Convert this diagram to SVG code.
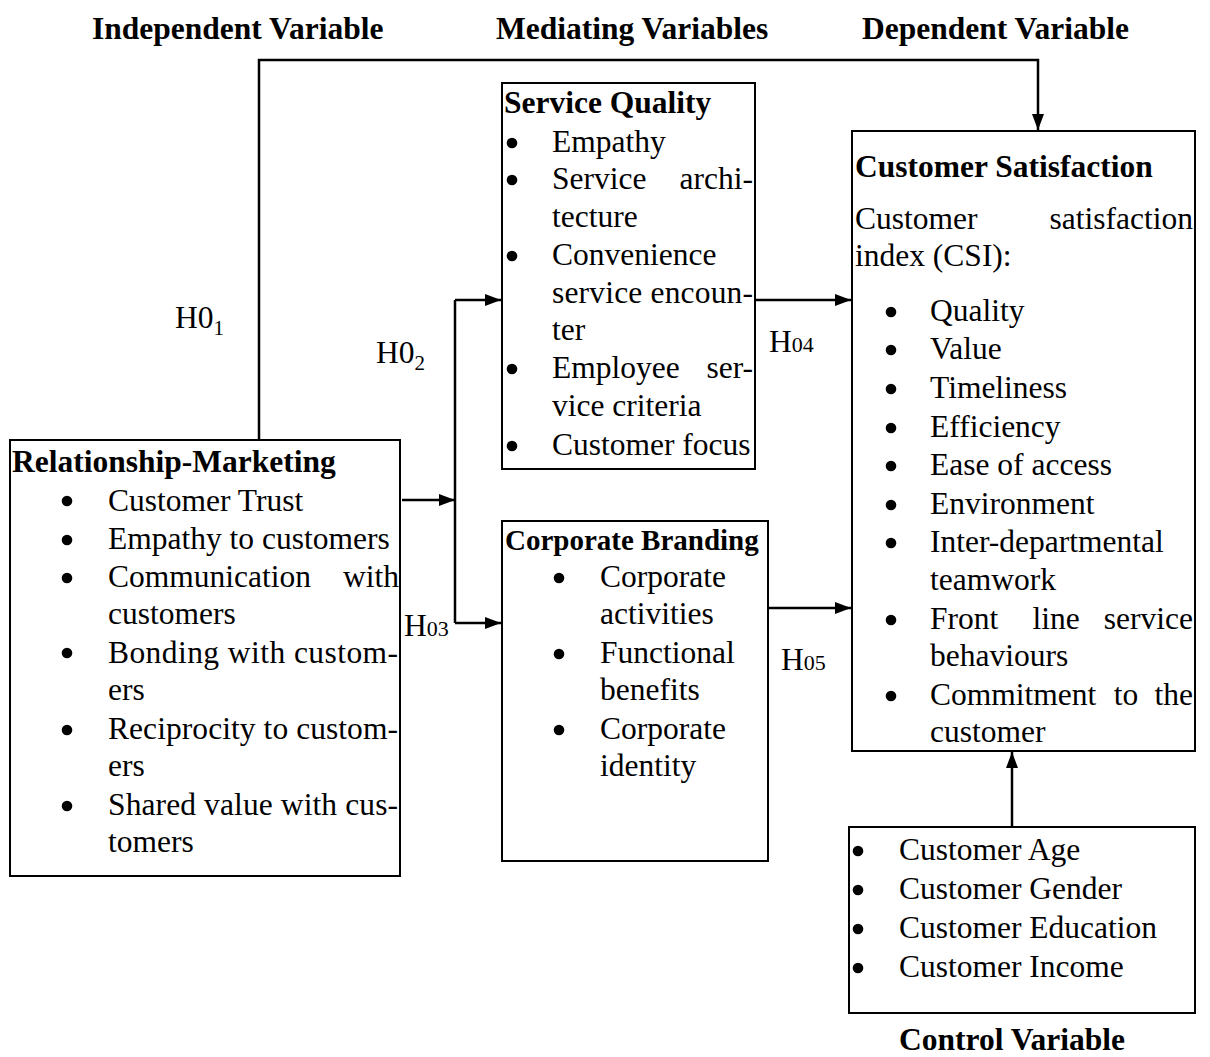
<svg xmlns="http://www.w3.org/2000/svg" width="1210" height="1057" viewBox="0 0 1210 1057">
<style>
text{font-family:"Liberation Serif","Times New Roman",serif;font-size:31.5px;fill:#000}
.b{font-weight:bold}
.sm{font-size:22px}
.sub{font-size:21px}
.box{fill:#fff;stroke:#000;stroke-width:2}
.conn{fill:none;stroke:#000;stroke-width:2.5}
.bul{fill:#000}
</style>
<defs>
<marker id="arr" viewBox="0 0 16 12" refX="16" refY="6" markerWidth="16" markerHeight="12" markerUnits="userSpaceOnUse" orient="auto">
<path d="M0,0 L16,6 L0,12 z" fill="#000"/>
</marker>
</defs>
<rect width="1210" height="1057" fill="#fff"/>

<g id="headers">
<text class="b" x="92" y="39">Independent Variable</text>
<text class="b" x="496" y="39">Mediating Variables</text>
<text class="b" x="862" y="39">Dependent Variable</text>
<text class="b" x="899" y="1050">Control Variable</text>
</g>

<g id="connectors">
<path class="conn" d="M259,440 V60 H1038 V130" marker-end="url(#arr)"/>
<path class="conn" d="M402,500 H455" marker-end="url(#arr)"/>
<path class="conn" d="M455,300 V623"/>
<path class="conn" d="M455,300 H501" marker-end="url(#arr)"/>
<path class="conn" d="M455,623 H501" marker-end="url(#arr)"/>
<path class="conn" d="M755,300 H851" marker-end="url(#arr)"/>
<path class="conn" d="M768,608 H851" marker-end="url(#arr)"/>
<path class="conn" d="M1012,827 V752" marker-end="url(#arr)"/>
</g>

<g id="labels">
<text x="175" y="328">H0<tspan class="sub" dy="7">1</tspan></text>
<text x="376" y="363">H0<tspan class="sub" dy="7">2</tspan></text>
<text x="404" y="636">H<tspan class="sm">03</tspan></text>
<text x="769" y="352">H<tspan class="sm">04</tspan></text>
<text x="781" y="670">H<tspan class="sm">05</tspan></text>
</g>

<g id="relationship-marketing">
<rect class="box" x="10" y="440" width="390" height="436"/>
<text class="b" x="12" y="472">Relationship-Marketing</text>
<circle class="bul" cx="67" cy="501" r="5.3"/>
<text x="108" y="511">Customer Trust</text>
<circle class="bul" cx="67" cy="540" r="5.3"/>
<text x="108" y="549">Empathy to customers</text>
<circle class="bul" cx="67" cy="578" r="5.3"/>
<text x="108" y="587">Communication</text>
<text x="399" y="587" text-anchor="end">with</text>
<text x="108" y="624">customers</text>
<circle class="bul" cx="67" cy="653" r="5.3"/>
<text x="108" y="663" textLength="290" lengthAdjust="spacing">Bonding with custom-</text>
<text x="108" y="700">ers</text>
<circle class="bul" cx="67" cy="730" r="5.3"/>
<text x="108" y="739" textLength="290" lengthAdjust="spacing">Reciprocity to custom-</text>
<text x="108" y="776">ers</text>
<circle class="bul" cx="67" cy="806" r="5.3"/>
<text x="108" y="815" textLength="290" lengthAdjust="spacing">Shared value with cus-</text>
<text x="108" y="852">tomers</text>
</g>

<g id="service-quality">
<rect class="box" x="502" y="83" width="253" height="386"/>
<text class="b" x="504" y="113">Service Quality</text>
<circle class="bul" cx="512" cy="143" r="5.3"/>
<text x="552" y="152">Empathy</text>
<circle class="bul" cx="512" cy="180" r="5.3"/>
<text x="552" y="189">Service</text>
<text x="753" y="189" text-anchor="end">archi-</text>
<text x="552" y="227">tecture</text>
<circle class="bul" cx="512" cy="256" r="5.3"/>
<text x="552" y="265">Convenience</text>
<text x="552" y="303" textLength="201" lengthAdjust="spacing">service encoun-</text>
<text x="552" y="340">ter</text>
<circle class="bul" cx="512" cy="369" r="5.3"/>
<text x="552" y="378">Employee</text>
<text x="753" y="378" text-anchor="end">ser-</text>
<text x="552" y="416">vice criteria</text>
<circle class="bul" cx="512" cy="446" r="5.3"/>
<text x="552" y="455">Customer focus</text>
</g>

<g id="corporate-branding">
<rect class="box" x="502" y="521" width="266" height="340"/>
<text class="b" x="505" y="550" style="font-size:29px">Corporate Branding</text>
<circle class="bul" cx="559" cy="578" r="5.3"/>
<text x="600" y="587">Corporate</text>
<text x="600" y="624">activities</text>
<circle class="bul" cx="559" cy="654" r="5.3"/>
<text x="600" y="663">Functional</text>
<text x="600" y="700">benefits</text>
<circle class="bul" cx="559" cy="730" r="5.3"/>
<text x="600" y="739">Corporate</text>
<text x="600" y="776">identity</text>
</g>

<g id="customer-satisfaction">
<rect class="box" x="852" y="131" width="343" height="620"/>
<text class="b" x="855" y="177">Customer Satisfaction</text>
<text x="855" y="229">Customer</text>
<text x="1193" y="229" text-anchor="end">satisfaction</text>
<text x="855" y="266">index (CSI):</text>
<circle class="bul" cx="891" cy="312" r="5.3"/>
<text x="930" y="321">Quality</text>
<circle class="bul" cx="891" cy="350" r="5.3"/>
<text x="930" y="359">Value</text>
<circle class="bul" cx="891" cy="389" r="5.3"/>
<text x="930" y="398">Timeliness</text>
<circle class="bul" cx="891" cy="428" r="5.3"/>
<text x="930" y="437">Efficiency</text>
<circle class="bul" cx="891" cy="466" r="5.3"/>
<text x="930" y="475">Ease of access</text>
<circle class="bul" cx="891" cy="505" r="5.3"/>
<text x="930" y="514">Environment</text>
<circle class="bul" cx="891" cy="543" r="5.3"/>
<text x="930" y="552">Inter-departmental</text>
<text x="930" y="590">teamwork</text>
<circle class="bul" cx="891" cy="620" r="5.3"/>
<text x="930" y="629">Front</text>
<text x="1056" y="629" text-anchor="middle">line</text>
<text x="1193" y="629" text-anchor="end">service</text>
<text x="930" y="666">behaviours</text>
<circle class="bul" cx="891" cy="696" r="5.3"/>
<text x="930" y="705">Commitment</text>
<text x="1126" y="705" text-anchor="middle">to</text>
<text x="1193" y="705" text-anchor="end">the</text>
<text x="930" y="742">customer</text>
</g>

<g id="control-variables">
<rect class="box" x="849" y="827" width="346" height="186"/>
<circle class="bul" cx="858" cy="851" r="5.3"/>
<text x="899" y="860">Customer Age</text>
<circle class="bul" cx="858" cy="890" r="5.3"/>
<text x="899" y="899">Customer Gender</text>
<circle class="bul" cx="858" cy="929" r="5.3"/>
<text x="899" y="938">Customer Education</text>
<circle class="bul" cx="858" cy="968" r="5.3"/>
<text x="899" y="977">Customer Income</text>
</g>
</svg>
